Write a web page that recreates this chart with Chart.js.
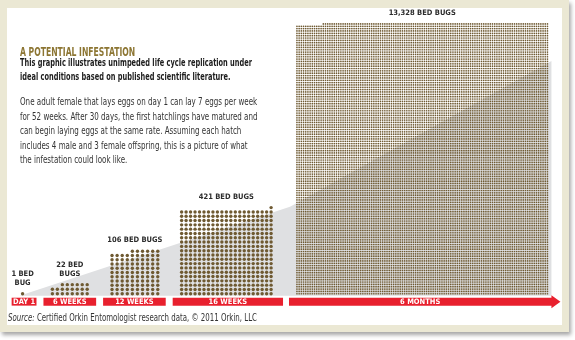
<!DOCTYPE html>
<html>
<head>
<meta charset="utf-8">
<script src="https://cdn.jsdelivr.net/npm/chart.js@4.4.1/dist/chart.umd.min.js"></script>
<style>
  html, body { margin: 0; padding: 0; background: #ffffff; }
  #page { position: relative; width: 575px; height: 340px; overflow: hidden;
          font-family: "Liberation Sans Narrow", "DejaVu Sans Condensed", "Liberation Sans", sans-serif; }
  #frame { position: absolute; left: 0; top: 0; width: 555px; height: 317px;
           border: 7px solid #ebe8d4; border-top-width: 8px; background: #fff;
           box-shadow: 2px 3px 4px rgba(0,0,0,0.35); }
  #chartBox { position: absolute; left: 0; top: 0; width: 575px; height: 340px; }
  .txt { position: absolute; left: 20px; white-space: nowrap; transform-origin: 0 0; }
  #title { top: 45px; font-size: 11.5px; font-weight: bold; color: #8c7532; transform: scaleX(0.74); }
  #sub { top: 56px; font-size: 10.5px; font-weight: bold; color: #1d1d1d; line-height: 13.5px; transform: scaleX(0.70); }
  #para { top: 94px; font-size: 10.3px; color: #333; line-height: 14.6px; transform: scaleX(0.77); }
  #source { left: 8px; top: 311px; font-size: 11px; color: #333; transform: scaleX(0.71); }
</style>
</head>
<body>
<div id="page">
  <div id="frame"></div>
  <div id="chartBox"><canvas id="bugChart"></canvas></div>
  <div class="txt" id="title">A POTENTIAL INFESTATION</div>
  <div class="txt" id="sub">This graphic illustrates unimpeded life cycle replication under<br>ideal conditions based on published scientific literature.</div>
  <div class="txt" id="para">One adult female that lays eggs on day 1 can lay 7 eggs per week<br>for 52 weeks. After 30 days, the first hatchlings have matured and<br>can begin laying eggs at the same rate. Assuming each hatch<br>includes 4 male and 3 female offspring, this is a picture of what<br>the infestation could look like.</div>
  <div class="txt" id="source"><i>Source:</i> Certified Orkin Entomologist research data, © 2011 Orkin, LLC</div>
</div>
<script>
// data
const periods = ["DAY 1", "6 WEEKS", "12 WEEKS", "16 WEEKS", "6 MONTHS"];
const bugCounts = [1, 22, 106, 421, 13328];
const countLabels = [["1 BED", "BUG"], ["22 BED", "BUGS"], ["106 BED BUGS"], ["421 BED BUGS"], ["13,328 BED BUGS"]];

// layout (page pixels)
const blockCols = [1, 8, 10, 21, 115];
const blockLeft = [21, 51, 111, 181, 297];
const blockRight = [21, 86, 157, 271, 549];
const blockPitchY = [4, 4.6, 4.3, 4.35, 2.37];
const blockRadius = [1.7, 1.7, 1.7, 1.7, 0.85];
const baseline = 295;
const bandLeft = [10, 42, 102, 172, 289];
const bandRight = [35, 95, 165, 283, 553];
const bandTop = 299, bandBottom = 307;
const dotColor = "#6f5a32";
const bandColor = "#e8202e";

function buildDots(b) {
    const n = bugCounts[b];
    const cols = blockCols[b];
    const px = cols > 1 ? (blockRight[b] - blockLeft[b]) / (cols - 1) : 0;
    const full = Math.floor(n / cols);
    const rem = n % cols;
    const pts = [];
    for (let i = 0; i < n; i++) {
        let row, col;
        if (i < full * cols) {
            row = Math.floor(i / cols);
            col = i % cols;
        } else {
            row = full;
            col = cols - rem + (i - full * cols); // top row is right aligned
        }
        pts.push({ x: blockLeft[b] + col * px, y: baseline - row * blockPitchY[b] });
    }
    return pts;
}

const overlayPlugin = {
    id: "overlay",
    beforeDatasetsDraw(chart) {
        const { ctx, scales: { x, y } } = chart;
        // grey growth wedge behind the dots
        ctx.save();
        ctx.fillStyle = "#dfe0e2";
        ctx.beginPath();
        ctx.moveTo(x.getPixelForValue(18), y.getPixelForValue(297));
        ctx.lineTo(x.getPixelForValue(290), y.getPixelForValue(207));
        ctx.lineTo(x.getPixelForValue(553), y.getPixelForValue(60));
        ctx.lineTo(x.getPixelForValue(553), y.getPixelForValue(297));
        ctx.closePath();
        ctx.fill();
        ctx.restore();
    },
    afterDatasetsDraw(chart) {
        const { ctx, scales: { x, y } } = chart;
        ctx.save();
        const font = '"Liberation Sans Narrow", "DejaVu Sans Condensed", sans-serif';
        periods.forEach((p, i) => {
            const l = x.getPixelForValue(bandLeft[i]);
            const r = x.getPixelForValue(bandRight[i]);
            const t = y.getPixelForValue(bandTop);
            const btm = y.getPixelForValue(bandBottom);
            ctx.fillStyle = bandColor;
            ctx.beginPath();
            ctx.moveTo(l, t);
            ctx.lineTo(r, t);
            if (i === periods.length - 1) {
                ctx.lineTo(r, t - 2.5);
                ctx.lineTo(r + 9, (t + btm) / 2);
                ctx.lineTo(r, btm + 2.5);
            }
            ctx.lineTo(r, btm);
            ctx.lineTo(l, btm);
            ctx.closePath();
            ctx.fill();
            ctx.fillStyle = "#ffffff";
            ctx.font = "bold 7.5px " + font;
            ctx.textAlign = "center";
            ctx.textBaseline = "middle";
            ctx.fillText(p, (l + r) / 2, (t + btm) / 2 + 0.5);

            // count label above each block
            const cx = (x.getPixelForValue(blockLeft[i]) + x.getPixelForValue(blockRight[i])) / 2;
            const rows = Math.ceil(bugCounts[i] / blockCols[i]);
            const topY = y.getPixelForValue(baseline - (rows - 1) * blockPitchY[i]);
            const lines = countLabels[i];
            ctx.fillStyle = "#2b2b2b";
            ctx.font = "bold 7.5px " + font;
            ctx.textBaseline = "alphabetic";
            lines.forEach((ln, k) => {
                ctx.fillText(ln, cx, topY - 9 - (lines.length - 1 - k) * 9);
            });
        });
        ctx.restore();
    }
};

const ctx = document.getElementById("bugChart").getContext("2d");
new Chart(ctx, {
    type: "scatter",
    data: {
        datasets: bugCounts.map((n, b) => ({
            label: periods[b],
            data: buildDots(b),
            pointRadius: blockRadius[b],
            pointHoverRadius: blockRadius[b],
            pointBorderWidth: 0,
            pointBackgroundColor: dotColor,
            borderColor: dotColor
        }))
    },
    options: {
        responsive: true,
        maintainAspectRatio: false,
        animation: false,
        events: [],
        layout: { padding: 0 },
        plugins: { legend: { display: false }, tooltip: { enabled: false } },
        scales: {
            x: { type: "linear", min: 0, max: 575, display: false },
            y: { type: "linear", min: 0, max: 340, reverse: true, display: false }
        }
    },
    plugins: [overlayPlugin]
});
</script>
</body>
</html>
